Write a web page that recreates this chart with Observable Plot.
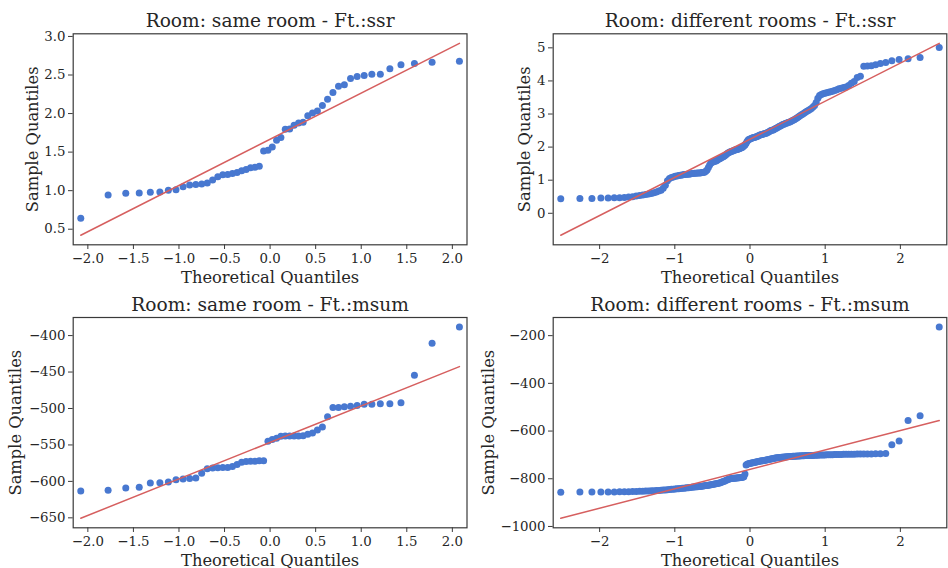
<!DOCTYPE html>
<html><head><meta charset="utf-8">
<script src="https://cdn.jsdelivr.net/npm/d3@7"></script>
<script src="https://cdn.jsdelivr.net/npm/@observablehq/plot@0.6"></script>
<style>
html,body{margin:0;padding:0;background:#fff;}
#fig{position:relative;width:948px;height:568px;overflow:hidden;background:#fff;}
#fig svg{position:absolute;}
</style></head><body><div id="fig"></div>
<script>
// ---- Data (sorted sample values) ----
const titles = [
  "Room: same room - Ft.:ssr",
  "Room: different rooms - Ft.:ssr",
  "Room: same room - Ft.:msum",
  "Room: different rooms - Ft.:msum"
];
const xLabel = "Theoretical Quantiles";
const yLabel = "Sample Quantiles";

const sameSsr = [0.642,0.943,0.965,0.969,0.978,0.982,1.004,1.012,1.05,1.072,
  1.08,1.085,1.098,1.137,1.18,1.205,1.21,1.223,1.236,1.257,
  1.275,1.296,1.305,1.318,1.516,1.524,1.567,1.654,1.689,1.796,
  1.80,1.848,1.877,1.886,1.973,2.007,2.032,2.106,2.187,2.274,
  2.355,2.373,2.455,2.481,2.494,2.51,2.51,2.58,2.632,2.648,
  2.665,2.678];

const diffSsr = [0.44,0.45,0.45,0.46,0.46,0.47,0.47,0.48,0.49,0.50,
  0.52,0.54,0.55,0.57,0.58,0.60,0.62,0.64,0.67,0.70,
  0.76,0.85,0.98,1.05,1.08,1.10,1.12,1.13,1.14,1.15,
  1.16,1.17,1.17,1.18,1.18,1.19,1.20,1.20,1.21,1.21,
  1.22,1.22,1.22,1.23,1.23,1.24,1.27,1.31,1.38,1.46,
  1.52,1.54,1.56,1.57,1.58,1.60,1.63,1.65,1.67,1.69,
  1.71,1.73,1.76,1.79,1.82,1.84,1.86,1.87,1.88,1.90,
  1.91,1.92,1.93,1.94,1.95,1.97,1.98,2.00,2.03,2.06,
  2.12,2.18,2.22,2.24,
  2.25,2.27,2.28,2.29,2.30,2.31,2.32,2.34,2.36,2.37,
  2.38,2.39,2.40,2.41,2.42,2.44,2.46,2.48,2.50,2.51,
  2.52,2.54,2.56,2.58,2.60,2.62,2.64,2.66,2.68,2.69,
  2.71,2.72,2.74,2.75,2.77,2.79,2.81,2.83,2.86,2.88,
  2.91,2.94,2.97,2.99,3.02,3.05,3.08,3.11,3.14,3.17,
  3.21,3.26,3.35,3.48,3.56,3.59,3.61,3.63,3.64,3.66,
  3.67,3.69,3.71,3.73,3.76,3.78,3.80,3.82,3.86,3.93,
  3.98,4.10,4.14,4.44,4.45,4.46,4.49,4.53,4.56,4.61,
  4.65,4.67,4.71,5.01];

const sameMsum = [-613.2,-612.2,-609.1,-608.2,-602.3,-601.8,-600.9,-597.7,-596.8,-595.9,
  -595.5,-588.7,-582.7,-581.8,-581.3,-580.9,-580.9,-579.5,-576.8,-573.7,
  -572.7,-572.3,-572.3,-571.8,-571.8,-545.0,-542.7,-540.9,-538.2,-537.7,
  -537.7,-537.7,-537.7,-537.3,-535.5,-533.6,-529.5,-525.4,-511.4,-498.7,
  -498.7,-497.7,-496.8,-496.0,-494.1,-494.1,-493.6,-493.6,-492.3,-454.5,
  -410.5,-388.3];

const diffMsum = [-857,-856,-856,-855,-855,-855,-854,-854,-854,-853,
  -853,-852,-852,-851,-851,-850,-850,-849,-849,-848,
  -847,-847,-846,-845,-844,-844,-843,-842,-842,-841,
  -840,-840,-839,-838,-838,-837,-836,-835,-835,-834,
  -833,-832,-832,-831,-830,-829,-828,-828,-827,-826,
  -825,-824,-823,-822,-821,-820,-819,-818,-816,-814,
  -812,-810,-807,-805,-803,-801,-800,-799,-799,-798,
  -798,-797,-797,-796,-796,-795,-795,-794,-792,-780,
  -742,-739,-737,-736,
  -735,-734,-733,-732,-731,-730,-729,-728,-727,-726,
  -725,-724,-723,-722,-721,-720,-719,-718,-717,-716,
  -715,-714,-713,-712,-712,-711,-711,-710,-710,-709,
  -709,-708,-708,-707,-707,-707,-706,-706,-706,-705,
  -705,-705,-704,-704,-704,-703,-703,-703,-702,-702,
  -702,-701,-701,-701,-700,-700,-700,-700,-699,-699,
  -699,-699,-698,-698,-698,-698,-697,-697,-697,-697,
  -697,-696,-696,-696,-696,-696,-695,-695,-694,-657,
  -642,-556,-536,-164];

// tick labels
const xTicksSame = [-2, -1.5, -1, -0.5, 0, 0.5, 1, 1.5, 2];
const xTicksDiff = [-2, -1, 0, 1, 2];
const yTicksSameSsr = [0.5, 1, 1.5, 2, 2.5, 3];
const yTicksDiffSsr = [0, 1, 2, 3, 4, 5];
const yTicksSameMsum = [-650, -600, -550, -500, -450, -400];
const yTicksDiffMsum = [-1000, -800, -600, -400, -200];

// ---- Normal quantile function (theoretical quantiles of a QQ plot) ----
function normInv(p) {
  const a = [-3.969683028665376e+01, 2.209460984245205e+02, -2.759285104469687e+02, 1.383577518672690e+02, -3.066479806614716e+01, 2.506628277459239e+00];
  const b = [-5.447609879822406e+01, 1.615858368580409e+02, -1.556989798598866e+02, 6.680131188771972e+01, -1.328068155288572e+01];
  const c = [-7.784894002430293e-03, -3.223964580411365e-01, -2.400758277161838e+00, -2.549671348850631e+00, 4.374664141464968e+00, 2.938163982698783e+00];
  const d = [7.784695709041462e-03, 3.224671290700398e-01, 2.445134176111560e+00, 3.754408661907416e+00];
  const pl = 0.02425;
  let q, r;
  if (p < pl) {
    q = Math.sqrt(-2 * Math.log(p));
    return (((((c[0]*q+c[1])*q+c[2])*q+c[3])*q+c[4])*q+c[5]) / ((((d[0]*q+d[1])*q+d[2])*q+d[3])*q+1);
  } else if (p <= 1 - pl) {
    q = p - 0.5; r = q*q;
    return (((((a[0]*r+a[1])*r+a[2])*r+a[3])*r+a[4])*r+a[5])*q / (((((b[0]*r+b[1])*r+b[2])*r+b[3])*r+b[4])*r+1);
  } else {
    q = Math.sqrt(-2 * Math.log(1 - p));
    return -(((((c[0]*q+c[1])*q+c[2])*q+c[3])*q+c[4])*q+c[5]) / ((((d[0]*q+d[1])*q+d[2])*q+d[3])*q+1);
  }
}

const BLUE = "#4878d0", RED = "#d65f5f", INK = "#262626";
const FONT = '"DejaVu Serif", serif';
const fmt1 = d3.format(".1f"), fmt0 = d3.format("d");

function panel({values, title, xTicks, yTicks, xFmt, yFmt, left, top, margins, yLabelDx}) {
  const n = values.length;
  const data = values.map((v, i) => ({q: normInv((i + 1) / (n + 1)), v}));
  const mean = d3.mean(values);
  const sd = Math.sqrt(d3.mean(values, v => (v - mean) ** 2));
  const qExt = d3.extent(data, d => d.q);
  const line = qExt.map(q => ({q, v: mean + sd * q}));
  const xPad = (qExt[1] - qExt[0]) * 0.02;
  const yExt = d3.extent([...values, ...line.map(d => d.v)]);
  const yPad = (yExt[1] - yExt[0]) * 0.05;
  const svg = Plot.plot({
    width: 474, height: 284, ...margins,
    x: {domain: [qExt[0] - xPad, qExt[1] + xPad]},
    y: {domain: [yExt[0] - yPad, yExt[1] + yPad]},
    style: {fontFamily: FONT, fontSize: "13.3px", color: INK, background: "transparent", overflow: "visible"},
    marks: [
      Plot.dot(data, {x: "q", y: "v", r: 3.5, fill: BLUE, stroke: null}),
      Plot.line(line, {x: "q", y: "v", stroke: RED, strokeWidth: 1.5}),
      Plot.frame({stroke: "#3a3a3a", strokeWidth: 1.2}),
      Plot.axisX({ticks: xTicks, tickFormat: xFmt, tickSize: 4.7, tickPadding: 4.5, label: null, stroke: "#3a3a3a"}),
      Plot.axisY({ticks: yTicks, tickFormat: yFmt, tickSize: 4.7, tickPadding: 3, label: null, stroke: "#3a3a3a"}),
      Plot.text([title], {text: d => d, frameAnchor: "top", textAnchor: "middle", lineAnchor: "bottom", dy: -6.6, fontSize: 18.6, fill: INK}),
      Plot.text([xLabel], {text: d => d, frameAnchor: "bottom", textAnchor: "middle", lineAnchor: "bottom", dy: 37.7, fontSize: 16.3, fill: INK}),
      Plot.text([yLabel], {text: d => d, frameAnchor: "left", textAnchor: "middle", lineAnchor: "bottom", rotate: -90, dx: yLabelDx, fontSize: 16.3, fill: INK})
    ]
  });
  svg.style.left = left + "px";
  svg.style.top = top + "px";
  document.getElementById("fig").appendChild(svg);
}

panel({values: sameSsr, title: titles[0], xTicks: xTicksSame, yTicks: yTicksSameSsr, xFmt: fmt1, yFmt: fmt1,
  left: 0, top: 0, margins: {marginLeft: 72.7, marginRight: 7.5, marginTop: 33.3, marginBottom: 39.7}, yLabelDx: -35.4});
panel({values: diffSsr, title: titles[1], xTicks: xTicksDiff, yTicks: yTicksDiffSsr, xFmt: fmt0, yFmt: fmt0,
  left: 474, top: 0, margins: {marginLeft: 78.7, marginRight: 1.7, marginTop: 33.3, marginBottom: 39.7}, yLabelDx: -23.4});
panel({values: sameMsum, title: titles[2], xTicks: xTicksSame, yTicks: yTicksSameMsum, xFmt: fmt1, yFmt: fmt0,
  left: 0, top: 284, margins: {marginLeft: 72.7, marginRight: 7.5, marginTop: 33, marginBottom: 40.7}, yLabelDx: -51.7});
panel({values: diffMsum, title: titles[3], xTicks: xTicksDiff, yTicks: yTicksDiffMsum, xFmt: fmt0, yFmt: fmt0,
  left: 474, top: 284, margins: {marginLeft: 78.7, marginRight: 1.7, marginTop: 33, marginBottom: 40.7}, yLabelDx: -59.4});
</script>
</body></html>
